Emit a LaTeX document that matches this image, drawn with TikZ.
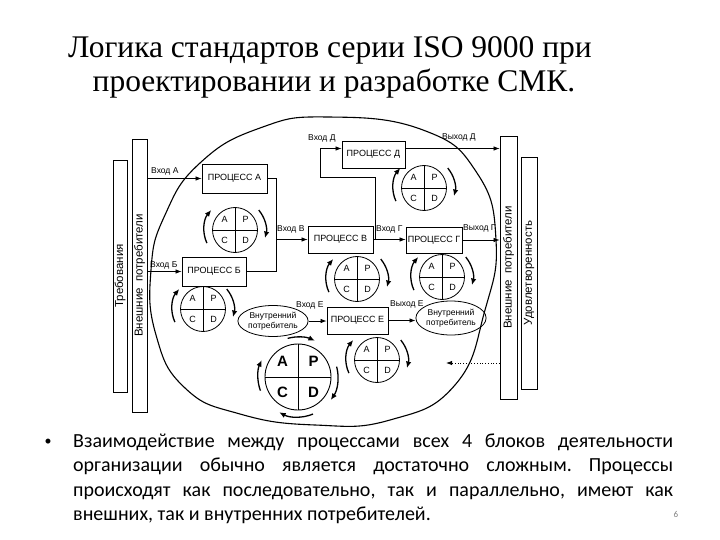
\documentclass[tikz,border=0pt]{standalone}
\usepackage{fontspec}
\setmainfont{Liberation Serif}
\newfontfamily\arialf{Liberation Sans}
\newfontfamily\calib{Carlito}
\usetikzlibrary{arrows.meta,shapes.geometric}
% small PDCA circle: name, x, y
\newcommand\pdcasmall[3]{%
  \begin{scope}[shift={(#2,#3)}]
    \draw[line width=0.8pt] (0,0) circle[radius=22.5pt];
    \draw[line width=0.8pt] (-22.5,0) -- (22.5,0) (0,-22.5) -- (0,22.5);
    \node[cl] (#1-a) at (-10.5,10.5) {A};
    \node[cl] (#1-p) at (10.5,10.5) {P};
    \node[cl] (#1-c) at (-10.5,-10.5) {C};
    \node[cl] (#1-d) at (10.5,-10.5) {D};
    \draw[cyc] (205:31pt) arc[start angle=205, end angle=140, radius=31pt];
    \draw[cyc] (40:31pt) arc[start angle=40, end angle=-15, radius=31pt];
  \end{scope}}
\newcommand\pdcabig[3]{%
  \begin{scope}[shift={(#2,#3)}]
    \draw[line width=0.9pt] (0,0) circle[radius=33pt];
    \draw[line width=0.9pt] (-33,0) -- (33,0) (0,-33) -- (0,33);
    \node[bl] (#1-a) at (-15.5,15.5) {A};
    \node[bl] (#1-p) at (15.5,15.5) {P};
    \node[bl] (#1-c) at (-15.5,-15.5) {C};
    \node[bl] (#1-d) at (15.5,-15.5) {D};
    \draw[cyc] (105:40pt) arc[start angle=105, end angle=65, radius=40pt];
    \draw[cyc] (15:40pt) arc[start angle=15, end angle=-35, radius=40pt];
    \draw[cyc] (-68:40pt) arc[start angle=-68, end angle=-118, radius=40pt];
    \draw[cyc] (200:40pt) arc[start angle=200, end angle=155, radius=40pt];
  \end{scope}}
\begin{document}
\begin{tikzpicture}[x=1pt,y=1pt,
  box/.style={draw, line width=0.8pt, minimum width=#1, minimum height=27pt, inner sep=0pt, font=\arialf\fontsize{9}{9}\selectfont},
  lab/.style={inner sep=0pt, anchor=base west, font=\arialf\fontsize{8.5}{8.5}\selectfont},
  barbox/.style={draw, line width=0.8pt, inner sep=0pt, rotate=90, font=\arialf\fontsize{11.5}{11.5}\selectfont},
  inner/.style={draw, ellipse, line width=0.8pt, inner sep=0pt, align=center, font=\arialf\fontsize{8.5}{10}\selectfont},
  conn/.style={line width=0.75pt},
  arr/.style={conn, -{Latex[length=6pt,width=4.5pt]}},
  cyc/.style={line width=1.3pt, black, -{Latex[length=6.5pt,width=5.5pt]}},
  cl/.style={inner sep=0pt, font=\arialf\fontsize{9}{9}\selectfont},
  bl/.style={inner sep=0pt, font=\arialf\bfseries\fontsize{15}{15}\selectfont},
]
\useasboundingbox (0,0) rectangle (720,-540);

% title
\node[anchor=base, inner sep=0pt, font=\fontsize{31.5}{31.5}\selectfont] (t1) at (330,-58) {Логика стандартов серии ISO 9000 при};
\node[anchor=base, inner sep=0pt, font=\fontsize{31.5}{31.5}\selectfont] (t2) at (334,-92) {проектировании и разработке СМК.};

% big outline
\draw[line width=1.1pt] plot[smooth cycle, tension=0.8] coordinates {(328,-117) (423,-130) (477,-173) (496,-240) (485,-310) (455,-385) (390,-420) (315,-425) (240,-414) (185,-388) (156,-335) (151,-270) (165,-215) (200,-163) (260,-128)};

% PDCA circles
\pdcasmall{cA}{235}{-230}
\pdcasmall{cB}{203}{-309}
\pdcasmall{cV}{357}{-279}
\pdcasmall{cG}{442}{-277}
\pdcasmall{cD}{424}{-188}
\pdcasmall{cE}{377}{-360}
\pdcabig{cBig}{298}{-377}

% bars
\node[barbox, minimum width=232pt, minimum height=14pt] (lb1) at (120,-276) {Требования};
\node[barbox, minimum width=273pt, minimum height=15pt] (lb2) at (139.5,-275.5) {Внешние\ \ потребители};
\node[barbox, minimum width=263pt, minimum height=17pt] (rb1) at (508.5,-267.5) {Внешние\ \ потребители};
\node[barbox, minimum width=232pt, minimum height=16pt] (rb2) at (529,-273) {Удовлетворенность};

% processes
\node[box=65pt, minimum height=29pt] (pa) at (234.5,-178.5) {ПРОЦЕСС А};
\node[box=64pt, minimum height=29pt] (pb) at (214,-271.5) {ПРОЦЕСС Б};
\node[box=65pt] (pv) at (340.5,-239.5) {ПРОЦЕСС В};
\node[box=56pt, minimum height=26pt] (pg) at (434,-240) {ПРОЦЕСС Г};
\node[box=63pt] (pd) at (373.5,-154.5) {ПРОЦЕСС Д};
\node[box=61pt] (pe) at (357.5,-320.5) {ПРОЦЕСС Е};

% internal consumers
\node[inner, minimum width=64pt, minimum height=31pt] (vl) at (273,-321) {Внутренний\\потребитель};
\node[inner, minimum width=61pt, minimum height=34pt] (vr) at (451,-318) {Внутренний\\потребитель};

% connectors
\coordinate (j1) at (276,-239.5);
\coordinate (j2) at (375,-239.5);
\coordinate (j3) at (320,-177);
\coordinate (dt) at (446,-363);
\draw[arr] (lb2.south |- pa.west) -- (pa.west);
\draw[arr] (lb2.south |- pb.west) -- (pb.west);
\draw[conn] (pa.east) -| (j1);
\draw[conn] (pb.east) -| (j1);
\draw[arr] (j1) -- (pv.west);
\draw[arr] (pv.east) -- (pv.east -| pg.west);
\draw[arr] (j2) |- (j3) |- ([yshift=6pt]pd.west);
\draw[arr] ([yshift=6pt]pd.east) -- ([yshift=6pt]pd.east -| rb1.north);
\draw[arr] (pg.east) -- (pg.east -| rb1.north);
\draw[arr] (vl.east) -- (vl.east -| pe.west);
\draw[arr] (pe.east) -- (pe.east -| vr.west);
\draw[conn, dotted, line width=1pt, -{Latex[length=6pt,width=4.5pt]}] (rb1.north |- dt) -- (dt);

% labels
\node[lab] (la) at (151,-174) {Вход А};
\node[lab] (lbb) at (150,-267) {Вход Б};
\node[lab] (lv) at (277,-232) {Вход В};
\node[lab] (lg) at (376,-231) {Вход Г};
\node[lab] (log) at (463,-230) {Выход Г};
\node[lab] (ld) at (308,-141) {Вход Д};
\node[lab] (lod) at (442,-140) {Выход Д};
\node[lab] (le) at (296,-307) {Вход Е};
\node[lab] (loe) at (390,-306) {Выход Е};

% body text
\node[anchor=base, inner sep=0pt, font=\calib\fontsize{14}{14}\selectfont] (bul) at (48,-445) {•};
\node[anchor=base west, inner sep=0pt, text width=600pt, align=justify, font=\calib\fontsize{20}{24.5}\selectfont] (body) at (73,-447)
 {\frenchspacing Взаимодействие между процессами всех 4 блоков деятельности\linebreak организации обычно является достаточно сложным. Процессы\linebreak происходят как последовательно, так и параллельно, имеют как\linebreak внешних, так и внутренних потребителей.};
\node[anchor=base, inner sep=0pt, text=gray, font=\calib\fontsize{9}{9}\selectfont] (pn) at (676,-517) {6};
\end{tikzpicture}
\end{document}
